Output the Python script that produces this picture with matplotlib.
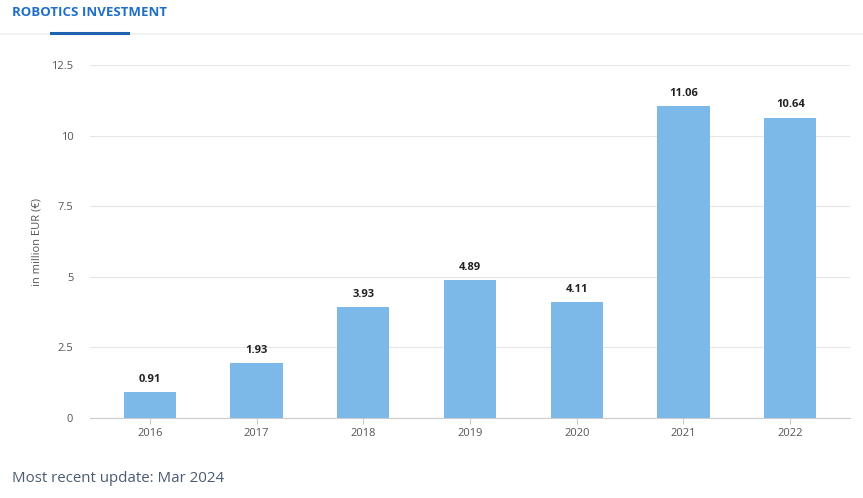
import matplotlib.pyplot as plt
from matplotlib.lines import Line2D

plt.rcParams['font.family'] = ['Open Sans', 'DejaVu Sans']

# data
years = ["2016", "2017", "2018", "2019", "2020", "2021", "2022"]
values = [0.91, 1.93, 3.93, 4.89, 4.11, 11.06, 10.64]
yticks = [0, 2.5, 5, 7.5, 10, 12.5]
ytick_labels = ["0", "2.5", "5", "7.5", "10", "12.5"]

fig = plt.figure(figsize=(8.63, 4.98), dpi=100)
ax = fig.add_axes([90/863, 1 - 418/498, 760/863, 353/498])

x = range(len(years))
bars = ax.bar(x, values, width=0.49, color="#7cb9e8", zorder=3)
for xi, v in zip(x, values):
    ax.text(xi, v + 0.25, f"{v:.2f}", ha="center", va="bottom",
            fontsize=8, fontweight="bold", color="#222222")

ax.set_xlim(-0.56, len(years) - 0.44)
ax.set_ylim(0, 12.5)
ax.set_yticks(yticks)
ax.set_yticklabels(ytick_labels)
ax.set_xticks(list(x))
ax.set_xticklabels(years)
ax.grid(axis="y", color="#e6e6e6", linewidth=0.8, zorder=0)
for s in ["top", "right", "left"]:
    ax.spines[s].set_visible(False)
ax.spines["bottom"].set_color("#cccccc")
ax.tick_params(axis="y", length=0, pad=12, labelsize=8, labelcolor="#555555")
ax.tick_params(axis="x", length=4, color="#cccccc", labelsize=8, labelcolor="#555555")
ax.set_ylabel("in million EUR (€)", fontsize=8, color="#555555", labelpad=6)

# header
fig.text(12/863, 1 - 12/498, "ROBOTICS INVESTMENT", fontsize=9.5, fontweight="bold",
         color="#1f6fc8", va="center", ha="left")
fig.add_artist(Line2D([0, 1], [1 - 34/498] * 2, color="#f0f0f0", linewidth=1.2))
fig.add_artist(Line2D([51/863, 128/863], [1 - 33/498] * 2, color="#2062b0", linewidth=2.2))

# footer
fig.text(12/863, 1 - 478/498, "Most recent update: Mar 2024", fontsize=10.8,
         color="#4a5a70", va="center", ha="left")

fig.savefig("out.png", dpi=100)
